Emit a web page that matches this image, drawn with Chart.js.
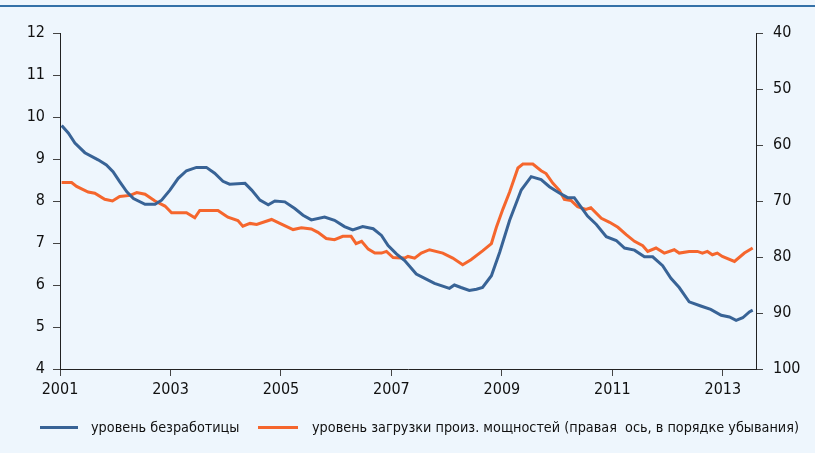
<!DOCTYPE html>
<html>
<head>
<meta charset="utf-8">
<script src="https://cdn.jsdelivr.net/npm/chart.js@4.4.1/dist/chart.umd.min.js"></script>
<style>
  body { margin: 0; background: #eef6fd; }
  #wrap { position: relative; width: 815px; height: 453px; }
  #topline { position: absolute; left: 0; top: 5px; width: 815px; height: 2px; background: #3471a8; }
  .key { position: absolute; top: 426px; height: 3px; }
  .lbl { position: absolute; top: 418px; font: 14.3px 'Liberation Sans Narrow', 'DejaVu Sans Condensed', sans-serif; color: #111; line-height: 18px; white-space: pre; }
</style>
</head>
<body>
<div id="wrap">
  <div id="topline"></div>
  <canvas id="chart" width="815" height="453"></canvas>
  <div class="key" id="key0" style="left:40px; width:38px;"></div>
  <div class="lbl" id="lbl0" style="left:91px;"></div>
  <div class="key" id="key1" style="left:258px; width:40px;"></div>
  <div class="lbl" id="lbl1" style="left:312px;"></div>
</div>
<script>
// уровень безработицы, % (левая ось)
const unempYears = [2001.03, 2001.15, 2001.27, 2001.45, 2001.69, 2001.84, 2001.96, 2002.08, 2002.21, 2002.33,
  2002.54, 2002.72, 2002.84, 2002.99, 2003.14, 2003.29, 2003.47, 2003.65, 2003.80, 2003.95,
  2004.07, 2004.35, 2004.47, 2004.62, 2004.77, 2004.89, 2005.07, 2005.25, 2005.40, 2005.55,
  2005.79, 2005.97, 2006.15, 2006.30, 2006.48, 2006.67, 2006.82, 2006.94, 2007.09, 2007.24,
  2007.45, 2007.63, 2007.78, 2008.05, 2008.14, 2008.26, 2008.41, 2008.54, 2008.65, 2008.81,
  2008.96, 2009.14, 2009.35, 2009.53, 2009.71, 2009.86, 2010.04, 2010.19, 2010.31, 2010.43,
  2010.55, 2010.71, 2010.89, 2011.07, 2011.22, 2011.40, 2011.58, 2011.73, 2011.91, 2012.06,
  2012.21, 2012.39, 2012.60, 2012.78, 2012.97, 2013.12, 2013.24, 2013.36, 2013.48, 2013.54];
const unempValues = [9.80, 9.62, 9.38, 9.15, 8.98, 8.86, 8.70, 8.46, 8.22, 8.06,
  7.92, 7.92, 8.02, 8.26, 8.54, 8.72, 8.80, 8.80, 8.66, 8.47,
  8.40, 8.42, 8.26, 8.02, 7.91, 8.00, 7.98, 7.82, 7.66, 7.55,
  7.62, 7.54, 7.39, 7.31, 7.39, 7.34, 7.18, 6.94, 6.74, 6.58,
  6.26, 6.14, 6.04, 5.92, 6.00, 5.94, 5.87, 5.90, 5.94, 6.22,
  6.78, 7.54, 8.26, 8.58, 8.51, 8.34, 8.19, 8.08, 8.08, 7.86,
  7.64, 7.44, 7.15, 7.06, 6.88, 6.83, 6.67, 6.67, 6.46, 6.16,
  5.94, 5.60, 5.50, 5.42, 5.28, 5.24, 5.16, 5.22, 5.36, 5.40];

// уровень загрузки производственных мощностей, % (правая ось, обратный порядок)
const capYears = [2001.03, 2001.21, 2001.30, 2001.51, 2001.63, 2001.81, 2001.95, 2002.08, 2002.27, 2002.39,
  2002.54, 2002.72, 2002.90, 2003.02, 2003.29, 2003.44, 2003.53, 2003.86, 2003.98, 2004.04,
  2004.22, 2004.31, 2004.44, 2004.56, 2004.83, 2004.98, 2005.22, 2005.37, 2005.55, 2005.67,
  2005.82, 2005.97, 2006.12, 2006.27, 2006.36, 2006.46, 2006.58, 2006.70, 2006.82, 2006.91,
  2007.03, 2007.24, 2007.30, 2007.42, 2007.54, 2007.69, 2007.93, 2008.11, 2008.29, 2008.44,
  2008.65, 2008.81, 2008.90, 2009.02, 2009.14, 2009.29, 2009.38, 2009.56, 2009.71, 2009.80,
  2009.92, 2010.04, 2010.13, 2010.25, 2010.37, 2010.52, 2010.61, 2010.80, 2010.95, 2011.10,
  2011.25, 2011.40, 2011.55, 2011.64, 2011.79, 2011.94, 2012.12, 2012.21, 2012.39, 2012.54,
  2012.63, 2012.72, 2012.81, 2012.90, 2012.99, 2013.21, 2013.39, 2013.54];
const capValues = [66.7, 66.7, 67.4, 68.4, 68.6, 69.7, 70.0, 69.2, 69.0, 68.5,
  68.8, 70.0, 70.9, 72.1, 72.1, 73.0, 71.7, 71.7, 72.5, 72.9,
  73.5, 74.5, 74.0, 74.2, 73.3, 74.0, 75.1, 74.8, 75.0, 75.6,
  76.7, 76.9, 76.3, 76.3, 77.6, 77.2, 78.6, 79.3, 79.3, 79.0,
  80.1, 80.2, 79.9, 80.2, 79.3, 78.7, 79.3, 80.2, 81.4, 80.5,
  78.9, 77.6, 74.7, 71.4, 68.4, 64.1, 63.4, 63.4, 64.6, 65.1,
  66.8, 68.1, 69.7, 69.9, 71.0, 71.5, 71.2, 73.1, 73.8, 74.7,
  76.0, 77.2, 78.0, 79.0, 78.4, 79.3, 78.7, 79.3, 79.0, 79.0,
  79.3, 79.0, 79.6, 79.3, 79.9, 80.8, 79.3, 78.4];

const xTicks = [2001, 2003, 2005, 2007, 2009, 2011, 2013];
const seriesNames = ["уровень безработицы", "уровень загрузки произ. мощностей (правая  ось, в порядке убывания)"];

const blue = "#386396";
const orange = "#f5662d";
const font = "'Liberation Sans Narrow', 'DejaVu Sans Condensed', sans-serif";

Chart.defaults.font.family = font;
Chart.defaults.color = "#111";

const axisLine = { display: true, color: "#222", width: 1 };
const tickGrid = { drawOnChartArea: false, drawTicks: true, tickLength: 7, color: "#444" };

const chart = new Chart(document.getElementById("chart").getContext("2d"), {
  type: "line",
  data: {
    datasets: [
      {
        label: seriesNames[0],
        data: unempYears.map((x, i) => ({ x: x, y: unempValues[i] })),
        borderColor: blue,
        backgroundColor: blue,
        borderWidth: 3,
        pointRadius: 0,
        yAxisID: "y",
      },
      {
        label: seriesNames[1],
        data: capYears.map((x, i) => ({ x: x, y: capValues[i] })),
        borderColor: orange,
        backgroundColor: orange,
        borderWidth: 3,
        pointRadius: 0,
        yAxisID: "y1",
      },
    ],
  },
  options: {
    responsive: false,
    animation: false,
    layout: { padding: { top: 33, bottom: 39, left: 0, right: 0 } },
    plugins: {
      legend: { display: false },
      tooltip: { enabled: false },
    },
    scales: {
      x: {
        type: "linear",
        min: 2001,
        max: 2013.6,
        afterBuildTicks: (scale) => { scale.ticks = xTicks.map((v) => ({ value: v })); },
        afterFit: (scale) => { scale.height = 45; },
        ticks: { font: { size: 16 }, padding: 4, callback: (v) => String(v) },
        grid: tickGrid,
        border: axisLine,
      },
      y: {
        position: "left",
        min: 4,
        max: 12,
        afterFit: (scale) => { scale.width = 60; },
        ticks: { stepSize: 1, font: { size: 16 }, padding: 8 },
        grid: tickGrid,
        border: axisLine,
      },
      y1: {
        position: "right",
        min: 40,
        max: 100,
        reverse: true,
        afterFit: (scale) => { scale.width = 59; },
        ticks: { stepSize: 10, font: { size: 16 }, padding: 10 },
        grid: tickGrid,
        border: axisLine,
      },
    },
  },
});

// легенда под графиком
chart.data.datasets.forEach((ds, i) => {
  document.getElementById("key" + i).style.background = ds.borderColor;
  document.getElementById("lbl" + i).textContent = ds.label;
});
</script>
</body>
</html>
